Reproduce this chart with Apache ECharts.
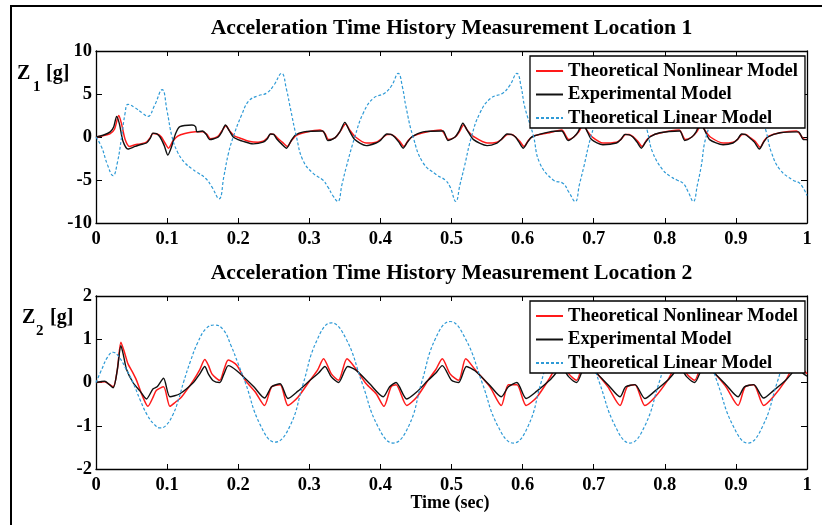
<!DOCTYPE html>
<html>
<head>
<meta charset="utf-8">
<script src="https://cdn.jsdelivr.net/npm/echarts@6/dist/echarts.min.js"></script>
<style>html,body{margin:0;padding:0;background:#fff;}#c{width:822px;height:525px;}</style>
</head>
<body>
<div id="c"></div>
<script>
// ---- Data (time [s], acceleration [g]) ----
const seriesNames = ['Theoretical Nonlinear Model', 'Experimental Model', 'Theoretical Linear Model'];
const titles = ['Acceleration Time History Measurement Location 1', 'Acceleration Time History Measurement Location 2'];

const z1Nonlinear = [
[0,0],[0.01,0.15],[0.02,0.4],[0.026,0.9],[0.032,2.5],[0.036,1.5],[0.041,-0.3],[0.047,-1.1],[0.055,-0.9],[0.062,-0.8],[0.071,-0.6],[0.076,-0.1],[0.08,0.4],[0.086,0.35],[0.092,0],[0.097,-0.7],[0.102,-1.3],[0.108,-0.5],[0.115,0.1],[0.125,0.4],[0.14,0.6],[0.15,0.6],[0.156,0.3],[0.161,-0.2],[0.167,-0.1],[0.172,0.1],[0.177,0.7],[0.183,1.3],[0.188,0.7],[0.195,0.1],[0.205,-0.2],[0.215,-0.5],[0.228,-0.6],[0.235,-0.5],[0.241,-0.1],[0.246,0.35],[0.25,0.3],[0.255,-0.1],[0.262,-0.6],[0.269,-1.1],[0.275,-0.4],[0.282,0.2],[0.295,0.55],[0.315,0.8],[0.322,0.4],[0.327,-0.3],[0.336,-0.1],[0.343,0.6],[0.351,1.5],[0.357,0.8],[0.365,0],[0.38,-0.7],[0.394,-0.6],[0.4,-0.3],[0.41,0.3],[0.415,0.3],[0.421,0],[0.427,-0.5],[0.433,-1.1],[0.439,-0.4],[0.446,0.1],[0.46,0.5],[0.485,0.8],[0.496,-0.3],[0.505,0],[0.511,0.6],[0.517,1.4],[0.523,0.7],[0.532,0],[0.55,-0.7],[0.564,-0.6],[0.57,-0.3],[0.579,0.3],[0.585,0.3],[0.59,0],[0.596,-0.5],[0.602,-1.1],[0.608,-0.4],[0.615,0.1],[0.638,0.5],[0.655,0.8],[0.665,-0.3],[0.672,0],[0.679,0.6],[0.685,1.4],[0.691,0.7],[0.698,0],[0.713,-0.7],[0.732,-0.6],[0.738,-0.3],[0.745,0.3],[0.75,0.3],[0.756,0],[0.762,-0.5],[0.768,-1.1],[0.774,-0.4],[0.78,0.1],[0.795,0.5],[0.82,0.8],[0.829,-0.3],[0.838,0],[0.845,0.6],[0.851,1.4],[0.857,0.7],[0.864,0],[0.882,-0.7],[0.896,-0.6],[0.902,-0.3],[0.909,0.3],[0.914,0.3],[0.919,0],[0.927,-0.5],[0.934,-1.2],[0.94,-0.4],[0.946,0.1],[0.962,0.5],[0.985,0.7],[0.995,-0.2],[1.0,-0.3]
];
const z1Experimental = [
[0,0],[0.01,0.2],[0.02,0.6],[0.025,1.2],[0.029,2.4],[0.033,1.5],[0.038,-0.5],[0.045,-1.4],[0.055,-1.1],[0.062,-0.9],[0.071,-0.7],[0.076,-0.2],[0.08,0.45],[0.085,0.4],[0.09,0],[0.096,-1.0],[0.101,-2.1],[0.106,-1.2],[0.112,0.4],[0.118,1.2],[0.135,1.4],[0.14,1.2],[0.142,0.6],[0.15,0.7],[0.155,0.3],[0.16,-0.3],[0.166,-0.2],[0.172,0],[0.177,0.6],[0.182,1.4],[0.187,0.8],[0.193,0],[0.2,-0.3],[0.207,-0.5],[0.221,-0.8],[0.235,-0.6],[0.241,-0.2],[0.245,0.35],[0.25,0.3],[0.254,-0.2],[0.261,-0.8],[0.268,-1.3],[0.274,-0.5],[0.28,0.2],[0.292,0.6],[0.319,0.7],[0.322,0.3],[0.326,-0.4],[0.336,-0.1],[0.343,0.6],[0.35,1.7],[0.356,0.8],[0.364,-0.3],[0.38,-1.0],[0.394,-0.7],[0.4,-0.4],[0.409,0.35],[0.415,0.3],[0.42,0],[0.426,-0.6],[0.432,-1.3],[0.438,-0.6],[0.444,0],[0.46,0.6],[0.488,0.7],[0.495,-0.4],[0.505,0],[0.51,0.6],[0.516,1.6],[0.522,0.8],[0.531,-0.3],[0.55,-1.0],[0.564,-0.7],[0.57,-0.3],[0.578,0.35],[0.584,0.3],[0.59,0],[0.595,-0.6],[0.601,-1.3],[0.607,-0.6],[0.613,0],[0.638,0.6],[0.655,0.7],[0.664,-0.4],[0.672,0],[0.678,0.6],[0.684,1.6],[0.69,0.8],[0.697,-0.3],[0.713,-0.9],[0.732,-0.7],[0.738,-0.3],[0.744,0.3],[0.75,0.25],[0.755,0],[0.761,-0.6],[0.767,-1.3],[0.773,-0.6],[0.779,0],[0.793,0.5],[0.821,0.7],[0.828,-0.4],[0.838,0],[0.844,0.6],[0.85,1.6],[0.856,0.8],[0.863,-0.3],[0.882,-0.9],[0.896,-0.7],[0.902,-0.3],[0.908,0.35],[0.913,0.3],[0.918,0],[0.926,-0.6],[0.933,-1.4],[0.939,-0.6],[0.945,0],[0.962,0.5],[0.988,0.6],[0.995,-0.3],[1.0,-0.3]
];
const z1Linear = [
[0,0],[0.008,-1.2],[0.016,-3.2],[0.024,-4.5],[0.03,-3],[0.036,0],[0.041,2.8],[0.045,3.8],[0.055,3.4],[0.065,2.8],[0.073,2.4],[0.082,3.6],[0.093,5.5],[0.1,3],[0.107,0],[0.115,-1.8],[0.125,-3],[0.135,-3.7],[0.142,-4.1],[0.154,-4.8],[0.163,-5.8],[0.173,-7.2],[0.18,-4.5],[0.186,-2],[0.193,0],[0.205,2.6],[0.215,4.2],[0.228,4.8],[0.24,5.1],[0.25,6.0],[0.261,7.4],[0.268,5.5],[0.273,3.5],[0.282,0],[0.291,-2.7],[0.305,-4.2],[0.319,-5],[0.326,-5.8],[0.333,-6.8],[0.34,-7.5],
[0.346,-5.5],[0.352,-3.5],[0.364,0],[0.376,2.8],[0.39,4.5],[0.406,5.1],[0.416,6.0],[0.425,7.4],[0.431,5.8],[0.436,3.5],[0.446,0],[0.46,-3],[0.479,-4.4],[0.491,-5],[0.498,-5.8],[0.506,-7.5],
[0.512,-5.5],[0.518,-3.5],[0.528,0],[0.54,2.8],[0.555,4.5],[0.572,5.1],[0.582,6.0],[0.592,7.4],[0.598,5.8],[0.603,3.5],[0.615,0.2],[0.624,-3],[0.643,-5],[0.657,-5.4],[0.665,-6.4],[0.674,-7.5],
[0.68,-5.5],[0.686,-3.5],[0.696,0],[0.708,2.8],[0.722,4.5],[0.738,5.1],[0.748,6.0],[0.758,7.4],[0.764,5.8],[0.768,3.5],[0.776,0.5],[0.783,-1.8],[0.797,-3.8],[0.808,-4.6],[0.817,-5],[0.826,-5.4],[0.833,-6.4],[0.84,-7.5],
[0.846,-5.5],[0.851,-3.5],[0.858,0],[0.872,2.8],[0.886,4.5],[0.902,5.1],[0.912,6.0],[0.922,7.4],[0.928,5.8],[0.933,3.5],[0.943,0.5],[0.95,-1.8],[0.962,-3.8],[0.98,-5],[0.99,-5.4],[1.0,-6.8]
];

const z2Nonlinear = [
[0,0],[0.012,0.02],[0.024,-0.1],[0.03,0.3],[0.035,0.93],[0.04,0.7],[0.045,0.43],[0.051,0.25],[0.057,0.05],[0.065,-0.3],[0.073,-0.55],[0.08,-0.35],[0.085,-0.18],[0.095,-0.1],[0.104,-0.55],[0.112,-0.45],[0.12,-0.34],[0.137,0.05],[0.146,0.3],[0.153,0.53],[0.158,0.4],[0.163,0.2],[0.174,0.05],[0.18,0.3],[0.186,0.52],[0.198,0.4],[0.21,0.05],[0.224,-0.22],[0.237,-0.53],[0.247,-0.1],[0.259,-0.05],[0.27,-0.53],[0.284,-0.34],[0.301,0.05],[0.312,0.3],[0.32,0.55],[0.331,0.2],[0.341,0.05],[0.353,0.55],[0.364,0.35],[0.38,-0.03],[0.394,-0.26],[0.405,-0.55],[0.415,-0.1],[0.422,-0.05],[0.437,-0.53],[0.451,-0.34],[0.467,0.05],[0.478,0.3],[0.487,0.55],[0.498,0.2],[0.51,0.05],[0.52,0.55],[0.533,0.3],[0.554,-0.1],[0.57,-0.53],[0.58,-0.05],[0.592,-0.05],[0.605,-0.53],[0.62,-0.34],[0.638,0.1],[0.645,0.3],[0.654,0.55],[0.665,0.2],[0.676,0.05],[0.688,0.55],[0.7,0.3],[0.72,-0.1],[0.737,-0.53],[0.747,-0.1],[0.758,-0.05],[0.772,-0.53],[0.786,-0.34],[0.804,0.05],[0.812,0.3],[0.82,0.55],[0.831,0.2],[0.842,0.05],[0.855,0.55],[0.866,0.3],[0.886,-0.1],[0.903,-0.53],[0.913,-0.1],[0.925,-0.05],[0.939,-0.53],[0.952,-0.34],[0.97,0.05],[0.978,0.3],[0.987,0.55],[0.995,0.3],[1.0,0.2]
];
const z2Experimental = [
[0,0],[0.012,0.03],[0.024,-0.12],[0.03,0.3],[0.035,0.85],[0.039,0.6],[0.043,0.3],[0.052,0],[0.062,-0.2],[0.071,-0.38],[0.08,-0.15],[0.086,-0.1],[0.095,0.1],[0.104,-0.33],[0.118,-0.26],[0.137,0],[0.146,0.2],[0.153,0.37],[0.158,0.2],[0.165,0.04],[0.174,0],[0.18,0.2],[0.186,0.39],[0.198,0.27],[0.222,-0.1],[0.237,-0.36],[0.247,-0.1],[0.259,-0.03],[0.27,-0.37],[0.284,-0.2],[0.301,0.05],[0.313,0.22],[0.322,0.37],[0.331,0.13],[0.341,0],[0.354,0.37],[0.366,0.28],[0.385,-0.03],[0.404,-0.33],[0.413,-0.1],[0.422,0],[0.437,-0.38],[0.451,-0.22],[0.467,0.05],[0.478,0.22],[0.487,0.39],[0.5,0.05],[0.51,0],[0.521,0.37],[0.533,0.27],[0.553,-0.05],[0.57,-0.33],[0.58,-0.1],[0.592,0],[0.605,-0.37],[0.62,-0.2],[0.638,0.05],[0.646,0.2],[0.654,0.37],[0.665,0.13],[0.676,0],[0.688,0.37],[0.7,0.27],[0.72,-0.05],[0.737,-0.33],[0.745,-0.1],[0.758,-0.05],[0.772,-0.37],[0.786,-0.2],[0.804,0.05],[0.812,0.2],[0.82,0.37],[0.831,0.13],[0.842,0],[0.855,0.37],[0.866,0.27],[0.886,-0.05],[0.903,-0.33],[0.912,-0.1],[0.925,-0.05],[0.939,-0.36],[0.952,-0.2],[0.97,0.05],[0.978,0.2],[0.987,0.37],[0.995,0.2],[1.0,0.15]
];
const z2Linear = [
[0,0],[0.008,0.3],[0.016,0.58],[0.024,0.7],[0.032,0.6],[0.042,0.32],[0.052,0],[0.062,-0.4],[0.072,-0.75],[0.082,-0.97],[0.09,-1.05],[0.098,-1.0],[0.108,-0.75],[0.116,-0.4],[0.123,0],[0.133,0.5],[0.143,0.92],[0.155,1.25],[0.167,1.33],[0.179,1.22],[0.19,0.85],[0.2,0.43],[0.21,0],[0.231,-0.98],[0.252,-1.38],[0.273,-1.0],[0.291,-0.05],[0.31,0.95],[0.331,1.38],[0.352,1.0],[0.374,0],[0.396,-1.0],[0.418,-1.4],[0.44,-1.0],[0.458,0],[0.477,1.0],[0.498,1.41],[0.52,1.0],[0.543,0],[0.565,-1.0],[0.587,-1.4],[0.608,-1.0],[0.626,0],[0.645,1.0],[0.665,1.41],[0.686,1.0],[0.708,0],[0.73,-1.0],[0.751,-1.4],[0.772,-1.0],[0.792,0],[0.812,1.0],[0.832,1.41],[0.853,1.0],[0.874,0],[0.896,-1.0],[0.917,-1.4],[0.938,-1.0],[0.958,0],[0.978,1.0],[0.998,1.41],[1.0,1.41]
];

const yRange1 = [-10, 10, 5];
const yRange2 = [-2, 2, 1];

// ---- Chart ----
const FONT = 'Liberation Serif';
const chart = echarts.init(document.getElementById('c'), null, {renderer: 'canvas'});
const lbl = {fontFamily: FONT, fontWeight: 'bold', fontSize: 18.5, color: '#000'};
const lineStyleAxis = {color: '#000', width: 1.3};

function xAx(grid, pos, labels) {
  return {type: 'value', gridIndex: grid, position: pos, min: 0, max: 1, interval: 0.1,
    axisLine: {show: true, onZero: false, lineStyle: lineStyleAxis},
    axisTick: {show: true, inside: true, length: 5, lineStyle: {color: '#000', width: 1}},
    axisLabel: labels ? Object.assign({show: true, margin: 7}, lbl) : {show: false},
    splitLine: {show: false}};
}
function yAx(grid, pos, r, labels) {
  return {type: 'value', gridIndex: grid, position: pos, min: r[0], max: r[1], interval: r[2],
    axisLine: {show: true, onZero: false, lineStyle: lineStyleAxis},
    axisTick: {show: true, inside: true, length: 6, lineStyle: {color: '#000', width: 1}},
    axisLabel: labels ? Object.assign({show: true, margin: 4}, lbl) : {show: false},
    splitLine: {show: false}};
}
const colors = ['#ff1a1a', '#111111', '#2e9ad6'];
function ser(name, data, xi, yi, idx) {
  return {name: name, type: 'line', data: data, xAxisIndex: xi, yAxisIndex: yi,
    symbol: 'none', showSymbol: false, smooth: idx === 2 ? 0.45 : 0.25, animation: false,
    lineStyle: idx === 2 ? {color: colors[2], width: 1.2, type: [3, 2]} : {color: colors[idx], width: idx === 0 ? 1.5 : 1.4},
    itemStyle: {color: colors[idx]}};
}
function leg(top) {
  return {orient: 'vertical', left: 530, top: top, data: seriesNames,
    backgroundColor: '#fff', borderColor: '#000', borderWidth: 1.3, borderRadius: 0,
    padding: [5, 7, 0, 5], itemGap: 3.5, itemWidth: 27, itemHeight: 12,
    itemStyle: {opacity: 0},
    textStyle: {fontFamily: FONT, fontWeight: 'bold', fontSize: 18.6, color: '#000', lineHeight: 20},
    selectedMode: false};
}
function txt(t, x, y, size, align) {
  return {type: 'text', x: x, y: y, z: 10, style: {text: t, fill: '#000', fontFamily: FONT, fontWeight: 'bold', fontSize: size, align: align || 'left', verticalAlign: 'middle'}};
}

chart.setOption({
  animation: false,
  backgroundColor: '#fff',
  grid: [
    {left: 96, top: 51, width: 711, height: 172},
    {left: 96, top: 296, width: 711, height: 173}
  ],
  xAxis: [xAx(0, 'bottom', true), xAx(0, 'top', false), xAx(1, 'bottom', true), xAx(1, 'top', false)],
  yAxis: [yAx(0, 'left', yRange1, true), yAx(0, 'right', yRange1, false), yAx(1, 'left', yRange2, true), yAx(1, 'right', yRange2, false)],
  legend: [leg(56), leg(301)],
  series: [
    ser(seriesNames[0], z1Nonlinear, 0, 0, 0),
    ser(seriesNames[1], z1Experimental, 0, 0, 1),
    ser(seriesNames[2], z1Linear, 0, 0, 2),
    ser(seriesNames[0], z2Nonlinear, 2, 2, 0),
    ser(seriesNames[1], z2Experimental, 2, 2, 1),
    ser(seriesNames[2], z2Linear, 2, 2, 2)
  ],
  graphic: [
    {type: 'rect', shape: {x: 11, y: 6, width: 830, height: 540}, style: {fill: 'none', stroke: '#000', lineWidth: 2}, z: 10, silent: true},
    txt(titles[0], 451.5, 28, 21.7, 'center'),
    txt(titles[1], 451.5, 273, 21.7, 'center'),
    txt('Z', 17, 74, 20),
    txt('1', 33, 87, 15),
    txt('[g]', 46, 74, 20),
    txt('Z', 22, 318, 20),
    txt('2', 36, 331, 15),
    txt('[g]', 50, 318, 20),
    txt('Time (sec)', 450, 503, 18, 'center')
  ]
});
</script>
</body>
</html>
